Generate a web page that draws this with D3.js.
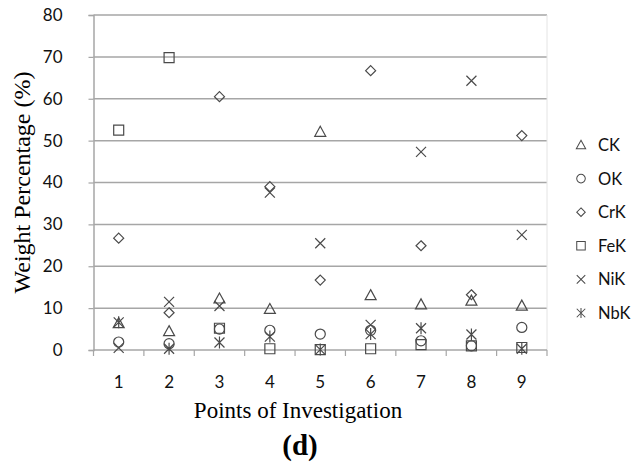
<!DOCTYPE html>
<html>
<head>
<meta charset="utf-8">
<script src="https://cdn.jsdelivr.net/npm/d3@7/dist/d3.min.js"></script>
<style>
  html, body { margin: 0; padding: 0; background: #fff; }
  svg { display: block; }
</style>
</head>
<body>
<svg id="chart" width="643" height="466"></svg>
<script>
// Measurement points along the investigated line
const points = [1, 2, 3, 4, 5, 6, 7, 8, 9];

// Weight percentage of each element at every point
const CK  = [6.4, 4.5, 12.3, 9.8, 52.1, 13.1, 10.9, 11.8, 10.6];
const OK  = [1.9, 1.5, 5.0, 4.7, 3.8, 4.7, 2.2, 1.0, 5.4];
const CrK = [26.7, 8.9, 60.5, 39.0, 16.7, 66.7, 24.9, 13.2, 51.2];
const FeK = [52.5, 69.8, 5.2, 0.3, 0.1, 0.3, 1.3, 1.0, 0.6];
const NiK = [0.5, 11.5, 10.5, 37.6, 25.5, 6.0, 47.3, 64.3, 27.5];
const NbK = [6.6, 0.3, 1.8, 3.2, 0.1, 3.8, 5.2, 3.7, 0.3];

const yTicks = [0, 10, 20, 30, 40, 50, 60, 70, 80];

const seriesNames = ["CK", "OK", "CrK", "FeK", "NiK", "NbK"];
const seriesValues = [CK, OK, CrK, FeK, NiK, NbK];
const seriesMarkers = ["triangle", "circle", "diamond", "square", "cross", "asterisk"];

const svg = d3.select("#chart");
const margin = { left: 93.5, right: 96, top: 15, bottom: 116 };
const W = 643, H = 466;

const x = d3.scaleBand()
  .domain(points)
  .range([margin.left, W - margin.right])
  .padding(0);
const y = d3.scaleLinear()
  .domain([0, 80])
  .range([H - margin.bottom, margin.top]);

const gridColor = "#a6a6a6";
const markColor = "#4a4a4a";

// Horizontal gridlines
svg.append("g")
  .selectAll("line")
  .data(yTicks.filter(d => d > 0))
  .join("line")
  .attr("x1", margin.left).attr("x2", W - margin.right)
  .attr("y1", d => y(d)).attr("y2", d => y(d))
  .attr("stroke", gridColor).attr("stroke-width", 1.5);

// Faint right border of the plot area
svg.append("line")
  .attr("x1", W - margin.right).attr("x2", W - margin.right)
  .attr("y1", margin.top).attr("y2", y(0))
  .attr("stroke", "#e4e4e4").attr("stroke-width", 1);

// Y axis
const yAxis = svg.append("g")
  .attr("transform", `translate(${margin.left},0)`)
  .call(d3.axisLeft(y).tickValues(yTicks).tickSize(5).tickPadding(26));
yAxis.select(".domain").attr("stroke", gridColor).attr("stroke-width", 1.5);
yAxis.selectAll(".tick line").attr("stroke", gridColor).attr("stroke-width", 1.2);
yAxis.selectAll(".tick text")
  .attr("font-family", "Lato, 'Open Sans', sans-serif")
  .attr("font-size", 17).attr("fill", "#111");

// X axis: labels centred in each band, tick marks on band boundaries
const xAxis = svg.append("g")
  .attr("transform", `translate(0,${y(0)})`)
  .call(d3.axisBottom(x).tickSize(0).tickPadding(26));
xAxis.select(".domain").remove();
xAxis.selectAll(".tick text")
  .attr("font-family", "Lato, 'Open Sans', sans-serif")
  .attr("font-size", 17).attr("fill", "#111");

const boundaries = points.map(p => x(p)).concat([x(points[points.length - 1]) + x.bandwidth()]);
svg.append("g")
  .selectAll("line")
  .data(boundaries)
  .join("line")
  .attr("x1", d => d).attr("x2", d => d)
  .attr("y1", y(0)).attr("y2", y(0) + 6)
  .attr("stroke", gridColor).attr("stroke-width", 1.2);
svg.append("line")
  .attr("x1", margin.left).attr("x2", W - margin.right)
  .attr("y1", y(0)).attr("y2", y(0))
  .attr("stroke", gridColor).attr("stroke-width", 1.5);

// Marker shapes
function markerPath(type) {
  const s = 5;
  switch (type) {
    case "triangle": return `M0,${-s - 0.5}L${s + 0.5},${s - 0.5}L${-s - 0.5},${s - 0.5}Z`;
    case "circle": return d3.symbol(d3.symbolCircle, 80)();
    case "diamond": return `M0,-5L5,0L0,5L-5,0Z`;
    case "square": return `M-5,-5H5V5H-5Z`;
    case "cross": return `M-5,-5L5,5M5,-5L-5,5`;
    case "asterisk": return `M-5,-5L5,5M5,-5L-5,5M0,-6V6`;
  }
}

const cx = p => x(p) + x.bandwidth() / 2;

seriesNames.forEach((name, i) => {
  const vals = seriesValues[i];
  svg.append("g")
    .attr("class", "series-" + name)
    .selectAll("path")
    .data(points.map((p, j) => ({ p, v: vals[j] })))
    .join("path")
    .attr("transform", d => `translate(${cx(d.p)},${y(d.v)})`)
    .attr("d", markerPath(seriesMarkers[i]))
    .attr("fill", "none")
    .attr("stroke", markColor)
    .attr("stroke-width", 1.2);
});

// Legend
const legend = svg.append("g").attr("transform", "translate(581,145)");
seriesNames.forEach((name, i) => {
  const row = legend.append("g").attr("transform", `translate(0,${i * 33.6})`);
  row.append("path")
    .attr("d", markerPath(seriesMarkers[i]))
    .attr("transform", "scale(0.85)")
    .attr("fill", "none").attr("stroke", markColor).attr("stroke-width", 1.2);
  row.append("text")
    .attr("x", 17).attr("y", 6)
    .attr("font-family", "Lato, 'Open Sans', sans-serif")
    .attr("font-size", 16.5).attr("fill", "#111")
    .text(name);
});

// Axis titles
svg.append("text")
  .attr("transform", `translate(30,${(y(0) + y(80)) / 2}) rotate(-90)`)
  .attr("text-anchor", "middle")
  .attr("font-family", "'Liberation Serif', 'Times New Roman', serif")
  .attr("font-size", 24).attr("fill", "#000")
  .text("Weight Percentage (%)");

svg.append("text")
  .attr("x", 298).attr("y", 418)
  .attr("text-anchor", "middle")
  .attr("font-family", "'Liberation Serif', 'Times New Roman', serif")
  .attr("font-size", 23).attr("fill", "#000")
  .text("Points of Investigation");

svg.append("text")
  .attr("x", 300).attr("y", 455)
  .attr("text-anchor", "middle")
  .attr("font-family", "'Liberation Serif', 'Times New Roman', serif")
  .attr("font-weight", "bold")
  .attr("font-size", 29).attr("fill", "#000")
  .text("(d)");
</script>
</body>
</html>
